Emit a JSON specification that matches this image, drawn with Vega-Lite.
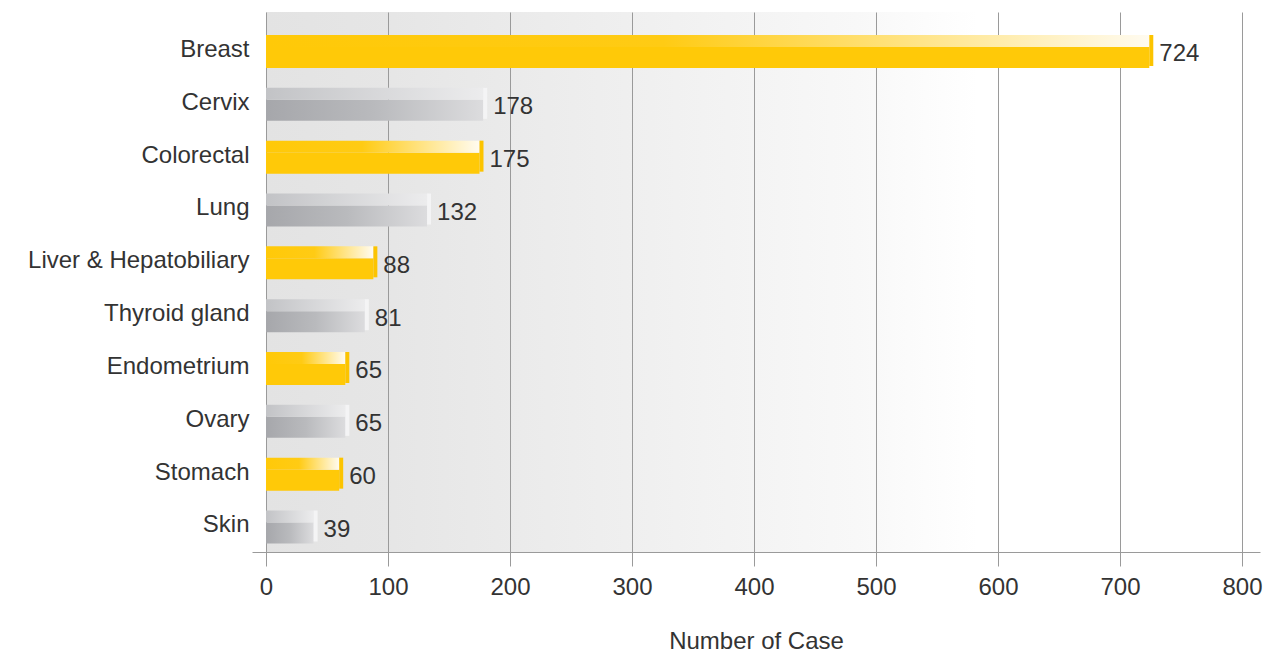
{
  "$schema": "https://vega.github.io/schema/vega-lite/v6.json",
  "width": 1008,
  "height": 540,
  "autosize": "none",
  "padding": {"left": 252, "top": 12, "right": 9, "bottom": 101},
  "background": "white",
  "config": {
    "font": "Liberation Sans",
    "view": {
      "stroke": null,
      "fill": {
        "gradient": "linear", "x1": 0, "y1": 0, "x2": 1, "y2": 0,
        "stops": [
          {"offset": 0, "color": "#ffffff"},
          {"offset": 0.0138, "color": "#ffffff"},
          {"offset": 0.0139, "color": "#e3e3e3"},
          {"offset": 0.14, "color": "#e6e6e6"},
          {"offset": 0.6, "color": "#f8f8f8"},
          {"offset": 0.72, "color": "#ffffff"},
          {"offset": 1, "color": "#ffffff"}
        ]
      }
    }
  },
  "data": {
    "values": [
      {"cancer": "Breast", "n": 724},
      {"cancer": "Cervix", "n": 178},
      {"cancer": "Colorectal", "n": 175},
      {"cancer": "Lung", "n": 132},
      {"cancer": "Liver & Hepatobiliary", "n": 88},
      {"cancer": "Thyroid gland", "n": 81},
      {"cancer": "Endometrium", "n": 65},
      {"cancer": "Ovary", "n": 65},
      {"cancer": "Stomach", "n": 60},
      {"cancer": "Skin", "n": 39}
    ]
  },
  "transform": [
    {"window": [{"op": "row_number", "as": "idx"}]}
  ],
  "encoding": {
    "y": {
      "field": "cancer", "type": "nominal", "sort": null,
      "scale": {
        "domain": ["Breast", "Cervix", "Colorectal", "Lung", "Liver & Hepatobiliary", "Thyroid gland", "Endometrium", "Ovary", "Stomach", "Skin"],
        "paddingInner": 0.375, "paddingOuter": 0.298, "align": 0.73
      },
      "axis": {
        "title": null, "ticks": false, "tickSize": 0, "domain": false,
        "labelFontSize": 24, "labelColor": "#333333", "labelPadding": 3,
        "labelOffset": -1.5, "labelLimit": 400
      }
    },
    "x": {
      "field": "n", "type": "quantitative",
      "scale": {"domain": [-11.475, 814.75], "nice": false, "zero": false},
      "axis": {
        "values": [0, 100, 200, 300, 400, 500, 600, 700, 800],
        "grid": true, "gridColor": "#9a9a9a", "gridWidth": 1,
        "tickSize": 14, "tickColor": "#9a9a9a", "domainColor": "#9a9a9a",
        "labelFontSize": 24, "labelColor": "#333333", "labelPadding": 9,
        "title": "Number of Case", "titleFontSize": 24, "titleFontWeight": "normal",
        "titleColor": "#333333", "titlePadding": 30
      }
    }
  },
  "layer": [
    {
      "transform": [{"filter": "datum.idx % 2 === 1"}],
      "mark": {"type": "bar", "height": 21, "yOffset": 6, "color": "#ffc908"},
      "encoding": {"x2": {"datum": 0}}
    },
    {
      "transform": [{"filter": "datum.idx % 2 === 1"}],
      "mark": {
        "type": "bar", "height": 12, "yOffset": -10.5,
        "color": {
          "gradient": "linear", "x1": 0, "y1": 0, "x2": 1, "y2": 0,
          "stops": [
            {"offset": 0, "color": "#ffc908"},
            {"offset": 0.45, "color": "#ffcb14"},
            {"offset": 1, "color": "#fffbf0"}
          ]
        }
      },
      "encoding": {"x2": {"datum": 0}}
    },
    {
      "transform": [{"filter": "datum.idx % 2 === 1"}],
      "mark": {"type": "tick", "orient": "vertical", "size": 31, "thickness": 4, "xOffset": 2, "yOffset": -1, "color": "#fcc400", "opacity": 1}
    },
    {
      "transform": [{"filter": "datum.idx % 2 === 0"}],
      "mark": {
        "type": "bar", "height": 21, "yOffset": 6,
        "color": {
          "gradient": "linear", "x1": 0, "y1": 0, "x2": 1, "y2": 0,
          "stops": [
            {"offset": 0, "color": "#a6a7ab"},
            {"offset": 0.5, "color": "#b9babd"},
            {"offset": 1, "color": "#dcdcde"}
          ]
        }
      },
      "encoding": {"x2": {"datum": 0}}
    },
    {
      "transform": [{"filter": "datum.idx % 2 === 0"}],
      "mark": {
        "type": "bar", "height": 12, "yOffset": -10.5,
        "color": {
          "gradient": "linear", "x1": 0, "y1": 0, "x2": 1, "y2": 0,
          "stops": [
            {"offset": 0, "color": "#c2c3c6"},
            {"offset": 1, "color": "#ececed"}
          ]
        }
      },
      "encoding": {"x2": {"datum": 0}}
    },
    {
      "transform": [{"filter": "datum.idx % 2 === 0"}],
      "mark": {"type": "tick", "orient": "vertical", "size": 31, "thickness": 4, "xOffset": 2, "yOffset": -1, "color": "#f4f4f5", "opacity": 1}
    },
    {
      "mark": {"type": "text", "align": "left", "baseline": "middle", "dx": 10, "dy": 3, "fontSize": 24, "color": "#333333"},
      "encoding": {"text": {"field": "n", "type": "quantitative"}}
    }
  ]
}
